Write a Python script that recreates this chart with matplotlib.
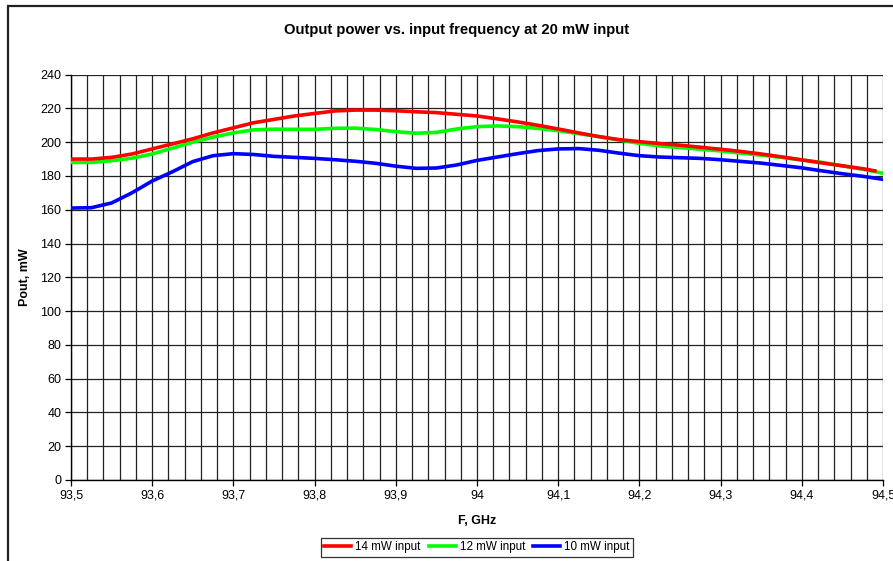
import matplotlib
matplotlib.use("Agg")
import matplotlib.pyplot as plt
from matplotlib.patches import Rectangle
from matplotlib.ticker import MultipleLocator, FuncFormatter

plt.rcParams['font.family'] = ['Liberation Sans', 'DejaVu Sans']

# frequency grid (GHz) the values were read at
freq = [93.5 + 0.025 * i for i in range(41)]
freq_14 = freq[:-1] + [94.49]

p_14mw = [190, 190, 191, 193, 196, 199, 202, 205.5, 208.5, 211.5,
          213.5, 215.5, 217, 218.5, 219, 219, 218.6, 218, 217.5, 216.5,
          215.5, 213.8, 212, 210, 207.8, 205.5, 203.3, 201.5, 200.3, 199.2,
          198.2, 197, 195.8, 194.5, 193, 191.3, 189.5, 187.7, 186, 184.3,
          183]
p_12mw = [188, 188, 189, 190.5, 193, 196.5, 200, 203, 205.5, 207.3,
          207.7, 207.6, 207.6, 208.2, 208.3, 207.5, 206.2, 205.3, 205.8, 207.8,
          209.2, 209.6, 209.2, 208.2, 206.8, 205, 203.3, 201.3, 199.3, 197.8,
          196.8, 195.8, 194.8, 193.5, 192.3, 191, 189.5, 188, 186, 184,
          181.6]
p_10mw = [161, 161.2, 164, 170, 177, 182.5, 188.5, 192, 193.2, 192.7,
          191.6, 191, 190.4, 189.6, 188.7, 187.5, 185.8, 184.5, 184.7, 186.5,
          189.2, 191.2, 193.2, 195, 196, 196.2, 195.2, 193.5, 192, 191.2,
          190.8, 190.4, 189.6, 188.6, 187.6, 186.2, 184.8, 183, 181.3, 179.8,
          178]

fig = plt.figure(figsize=(8.93, 5.61), dpi=100)
ax = fig.add_axes([71 / 893, 1 - 480 / 561, 812 / 893, 405.4 / 561])

# outer chart border (only top and left edges fall inside the picture)
fig.add_artist(Rectangle((8 / 893, -0.2), 1.2, 1.2 - 6 / 561,
                         transform=fig.transFigure, fill=False,
                         edgecolor='#222222', linewidth=1.6))

ax.plot(freq_14, p_14mw, color='#ff0000', lw=2.6, label='14 mW input', zorder=5)
ax.plot(freq, p_12mw, color='#00ff00', lw=2.6, label='12 mW input', zorder=4)
ax.plot(freq, p_10mw, color='#0000ff', lw=2.6, label='10 mW input', zorder=6)

ax.set_xlim(93.5, 94.5)
ax.set_ylim(0, 240)
ax.xaxis.set_major_locator(MultipleLocator(0.1))
ax.xaxis.set_minor_locator(MultipleLocator(0.02))
ax.yaxis.set_major_locator(MultipleLocator(20))
ax.xaxis.set_major_formatter(FuncFormatter(lambda v, p: ('%g' % round(v, 2)).replace('.', ',')))

ax.grid(True, which='both', axis='x', color='#222222', lw=0.9)
ax.grid(True, which='major', axis='y', color='#222222', lw=0.9)
ax.set_axisbelow(True)

ax.tick_params(axis='both', which='major', direction='out', length=4, width=0.9,
               labelsize=9, colors='black', pad=3)
ax.tick_params(axis='x', which='minor', length=0)
for side in ('top', 'right'):
    ax.spines[side].set_visible(False)
for side in ('left', 'bottom'):
    ax.spines[side].set_linewidth(1.0)
    ax.spines[side].set_color('black')

ax.set_xlabel('F, GHz', fontsize=9, fontweight='bold')
ax.set_ylabel('Pout, mW', fontsize=9, fontweight='bold')
ax.xaxis.set_label_coords(0.5, -(515 - 480) / 405.4)
ax.yaxis.set_label_coords(-(71 - 31) / 812, 0.5)
fig.text(457 / 893, 1 - 30 / 561, 'Output power vs. input frequency at 20 mW input',
         ha='center', va='center', fontsize=10.7, fontweight='bold')

leg = fig.legend(loc='center', bbox_to_anchor=(477 / 893, 1 - 547 / 561), ncol=3,
                 fontsize=8.4, frameon=True, fancybox=False, handlelength=2.3,
                 handletextpad=0.35, columnspacing=0.7, borderpad=0.3,
                 borderaxespad=0)
leg.get_frame().set_edgecolor('black')
leg.get_frame().set_linewidth(0.9)

fig.savefig('out.png', dpi=100)
